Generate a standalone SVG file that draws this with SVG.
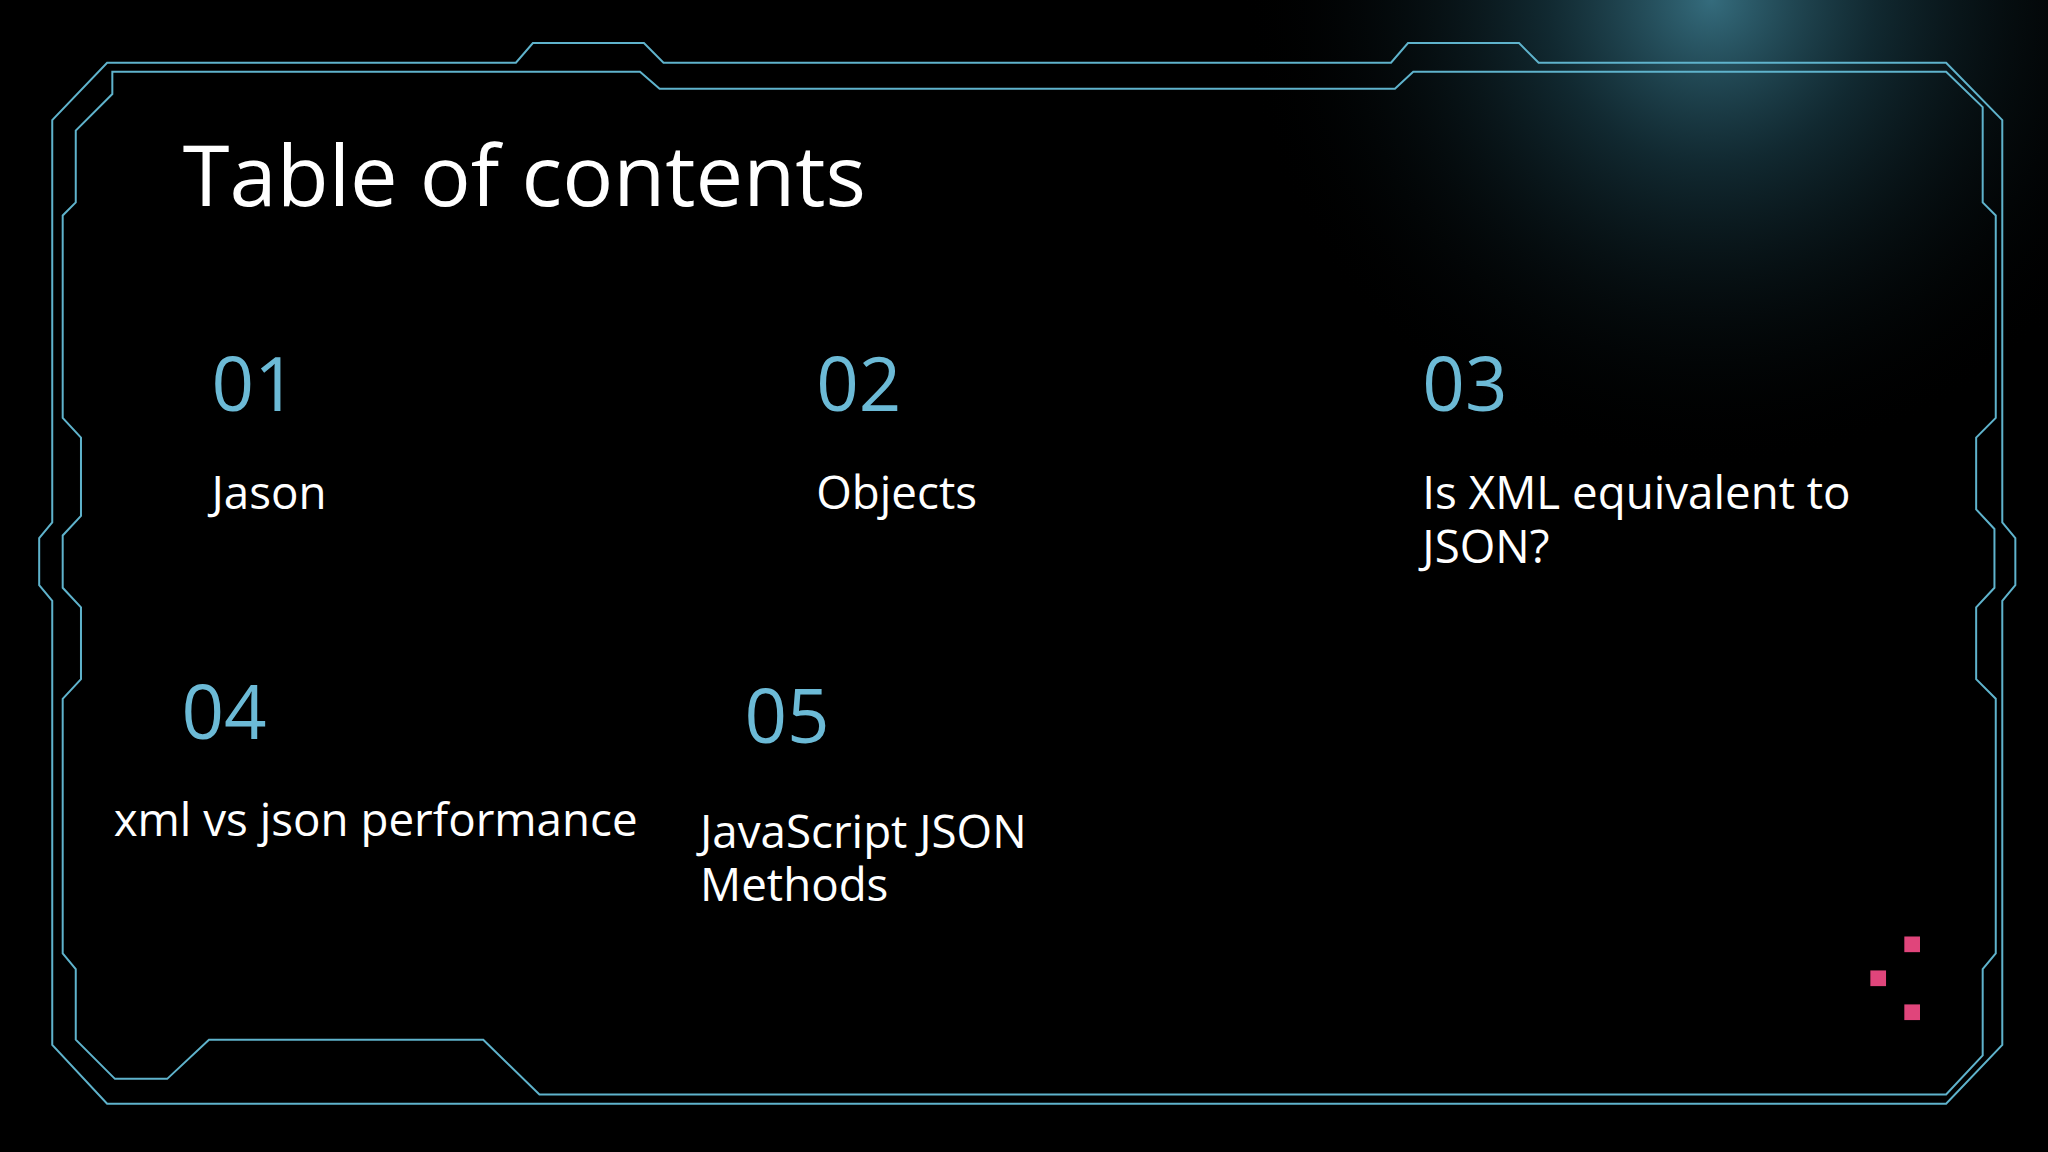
<svg xmlns="http://www.w3.org/2000/svg" width="2048" height="1152" viewBox="0 0 2048 1152">
<defs>
<radialGradient id="glow" cx="1310" cy="0" r="360" gradientUnits="userSpaceOnUse">
<stop offset="0" stop-color="#3e7f93" stop-opacity="0.85"/>
<stop offset="0.35" stop-color="#1f4a58" stop-opacity="0.55"/>
<stop offset="1" stop-color="#000" stop-opacity="0"/>
</radialGradient>
<style>
.fr{fill:none;stroke:#5fb3cc;stroke-width:2;vector-effect:non-scaling-stroke}
.t{font-family:"Open Sans","Noto Sans",sans-serif;fill:#ffffff}
.n{font-family:"Open Sans","Noto Sans",sans-serif;fill:#6cbad6;font-size:57px}
.l{font-size:35px}
.p{fill:#e0457b}
</style>
</defs>
<rect width="2048" height="1152" fill="#000"/>
<g transform="scale(1.30612)">
<rect x="900" y="0" width="668" height="420" fill="url(#glow)"/>
<g id="frame">
<path class="fr" d="M82,48 L395,48 L408,33 L493,33 L508,48 L1065,48 L1078,33 L1163,33 L1178,48 L1490,48 L1533,92 L1533,400 L1543,412 L1543,448 L1533,460 L1533,800 L1490,845 L82,845 L40,800 L40,460 L30,448 L30,412 L40,400 L40,92 Z"/>
<path class="fr" d="M86,55 L490,55 L505,68 L1068,68 L1082,55 L1490,55 L1518,82 L1518,155 L1528,165 L1528,320 L1513,335 L1513,390 L1527,405 L1527,450 L1513,465 L1513,520 L1528,535 L1528,730 L1518,742 L1518,808 L1490,838 L413,838 L370,796 L160,796 L128,826 L88,826 L58,796 L58,742 L48,730 L48,535 L62,520 L62,465 L48,450 L48,410 L62,395 L62,335 L48,320 L48,165 L58,155 L58,100 L86,72 Z"/>
</g>
<g id="title"><text class="t" x="140" y="158" font-size="65">Table of contents</text></g>
<g id="item01"><text class="n" x="162" y="315">01</text><text class="t l" x="162" y="390">Jason</text></g>
<g id="item02"><text class="n" x="625" y="315">02</text><text class="t l" x="625" y="390">Objects</text></g>
<g id="item03"><text class="n" x="1089" y="315">03</text><text class="t l" x="1089" y="390">Is XML equivalent to</text><text class="t l" x="1089" y="431">JSON?</text></g>
<g id="item04"><text class="n" x="139" y="566">04</text><text class="t l" x="87" y="640">xml vs json performance</text></g>
<g id="item05"><text class="n" x="570" y="569">05</text><text class="t l" x="536" y="649">JavaScript JSON</text><text class="t l" x="536" y="690">Methods</text></g>
<g id="dots"><rect class="p" x="1458" y="717" width="12" height="12"/><rect class="p" x="1432" y="743" width="12" height="12"/><rect class="p" x="1458" y="769" width="12" height="12"/></g>
</g>
</svg>
